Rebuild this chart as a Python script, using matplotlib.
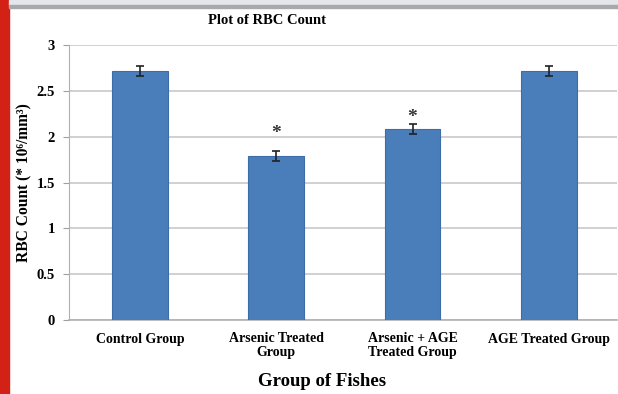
import matplotlib.pyplot as plt
from matplotlib.patches import Rectangle

# RBC counts per group (x10^6 / mm^3) with standard error
groups = ["Control Group", "Arsenic Treated\nGroup", "Arsenic + AGE\nTreated Group", "AGE Treated Group"]
rbc_mean = [2.72, 1.79, 2.08, 2.72]
rbc_err = [0.055, 0.055, 0.055, 0.055]
# height of the significance asterisk (None = not significant)
star_pos = [None, 2.04, 2.21, None]

plt.rcParams['font.family'] = ['Liberation Serif', 'DejaVu Serif']
plt.rcParams['font.weight'] = 'bold'
plt.rcParams['axes.labelweight'] = 'bold'

fig = plt.figure(figsize=(6.18, 3.94), dpi=100)
ax = fig.add_axes([69 / 618, 74 / 394, 548 / 618, 275 / 394])

x = list(range(len(groups)))
ax.bar(x, rbc_mean, width=0.41, color='#4a7ebb', edgecolor='#3d6da8', linewidth=0.8,
       zorder=3)
ax.errorbar(x, rbc_mean, yerr=rbc_err, fmt='none', ecolor='#222222', elinewidth=1.2,
            capsize=3, capthick=1.2, zorder=4)

for xi, s in zip(x, star_pos):
    if s is not None:
        ax.text(xi, s, '*', ha='center', va='center', fontsize=14, color='#333333')

ax.set_xlim(-0.52, 3.5)
ax.set_ylim(0, 3)
ax.set_yticks([0, 0.5, 1, 1.5, 2, 2.5, 3])
ax.set_yticklabels(['0', '0.5', '1', '1.5', '2', '2.5', '3'])
ax.yaxis.grid(True, color='#c8c8c8', linewidth=1.2, zorder=0)
ax.set_axisbelow(True)
ax.set_xticks(x)
ax.set_xticklabels(groups, fontsize=10, linespacing=1.05)
ax.tick_params(axis='x', length=0, pad=9)
ax.tick_params(axis='y', length=4, color='#a0a0a0', labelsize=10.5, pad=6)
for side in ['top', 'right']:
    ax.spines[side].set_visible(False)
ax.spines['left'].set_color('#b0b0b0')
ax.spines['bottom'].set_color('#b0b0b0')
ax.spines['bottom'].set_linewidth(1.2)

ax.set_xlabel('Group of Fishes', fontsize=13.5)
ax.xaxis.set_label_coords((322 - 69) / 548, -(382 - 320) / 275)
ax.set_ylabel('RBC Count (* 10\u2076/mm\u00b3)', fontsize=11.2)
ax.yaxis.set_label_coords(-(69 - 24) / 548, 0.5)
ax.xaxis.label.set_va('center')
ax.yaxis.label.set_va('center')
fig.text(267 / 618, 1 - 20 / 394, 'Plot of RBC Count', ha='center', va='center',
         fontsize=10.5)

# page frame: red side strip and grey header band
fig.patches.append(Rectangle((0, 0), 9 / 618, 1, transform=fig.transFigure,
                             color='#d42115', zorder=10))
fig.patches.append(Rectangle((9 / 618, 1 - 5 / 394), 1, 5 / 394, transform=fig.transFigure,
                             color='#e3e7ec', zorder=10))
fig.patches.append(Rectangle((9 / 618, 1 - 7.5 / 394), 1, 2.5 / 394, transform=fig.transFigure,
                             color='#a9a9ab', zorder=10))

fig.savefig('out.png', dpi=100)
